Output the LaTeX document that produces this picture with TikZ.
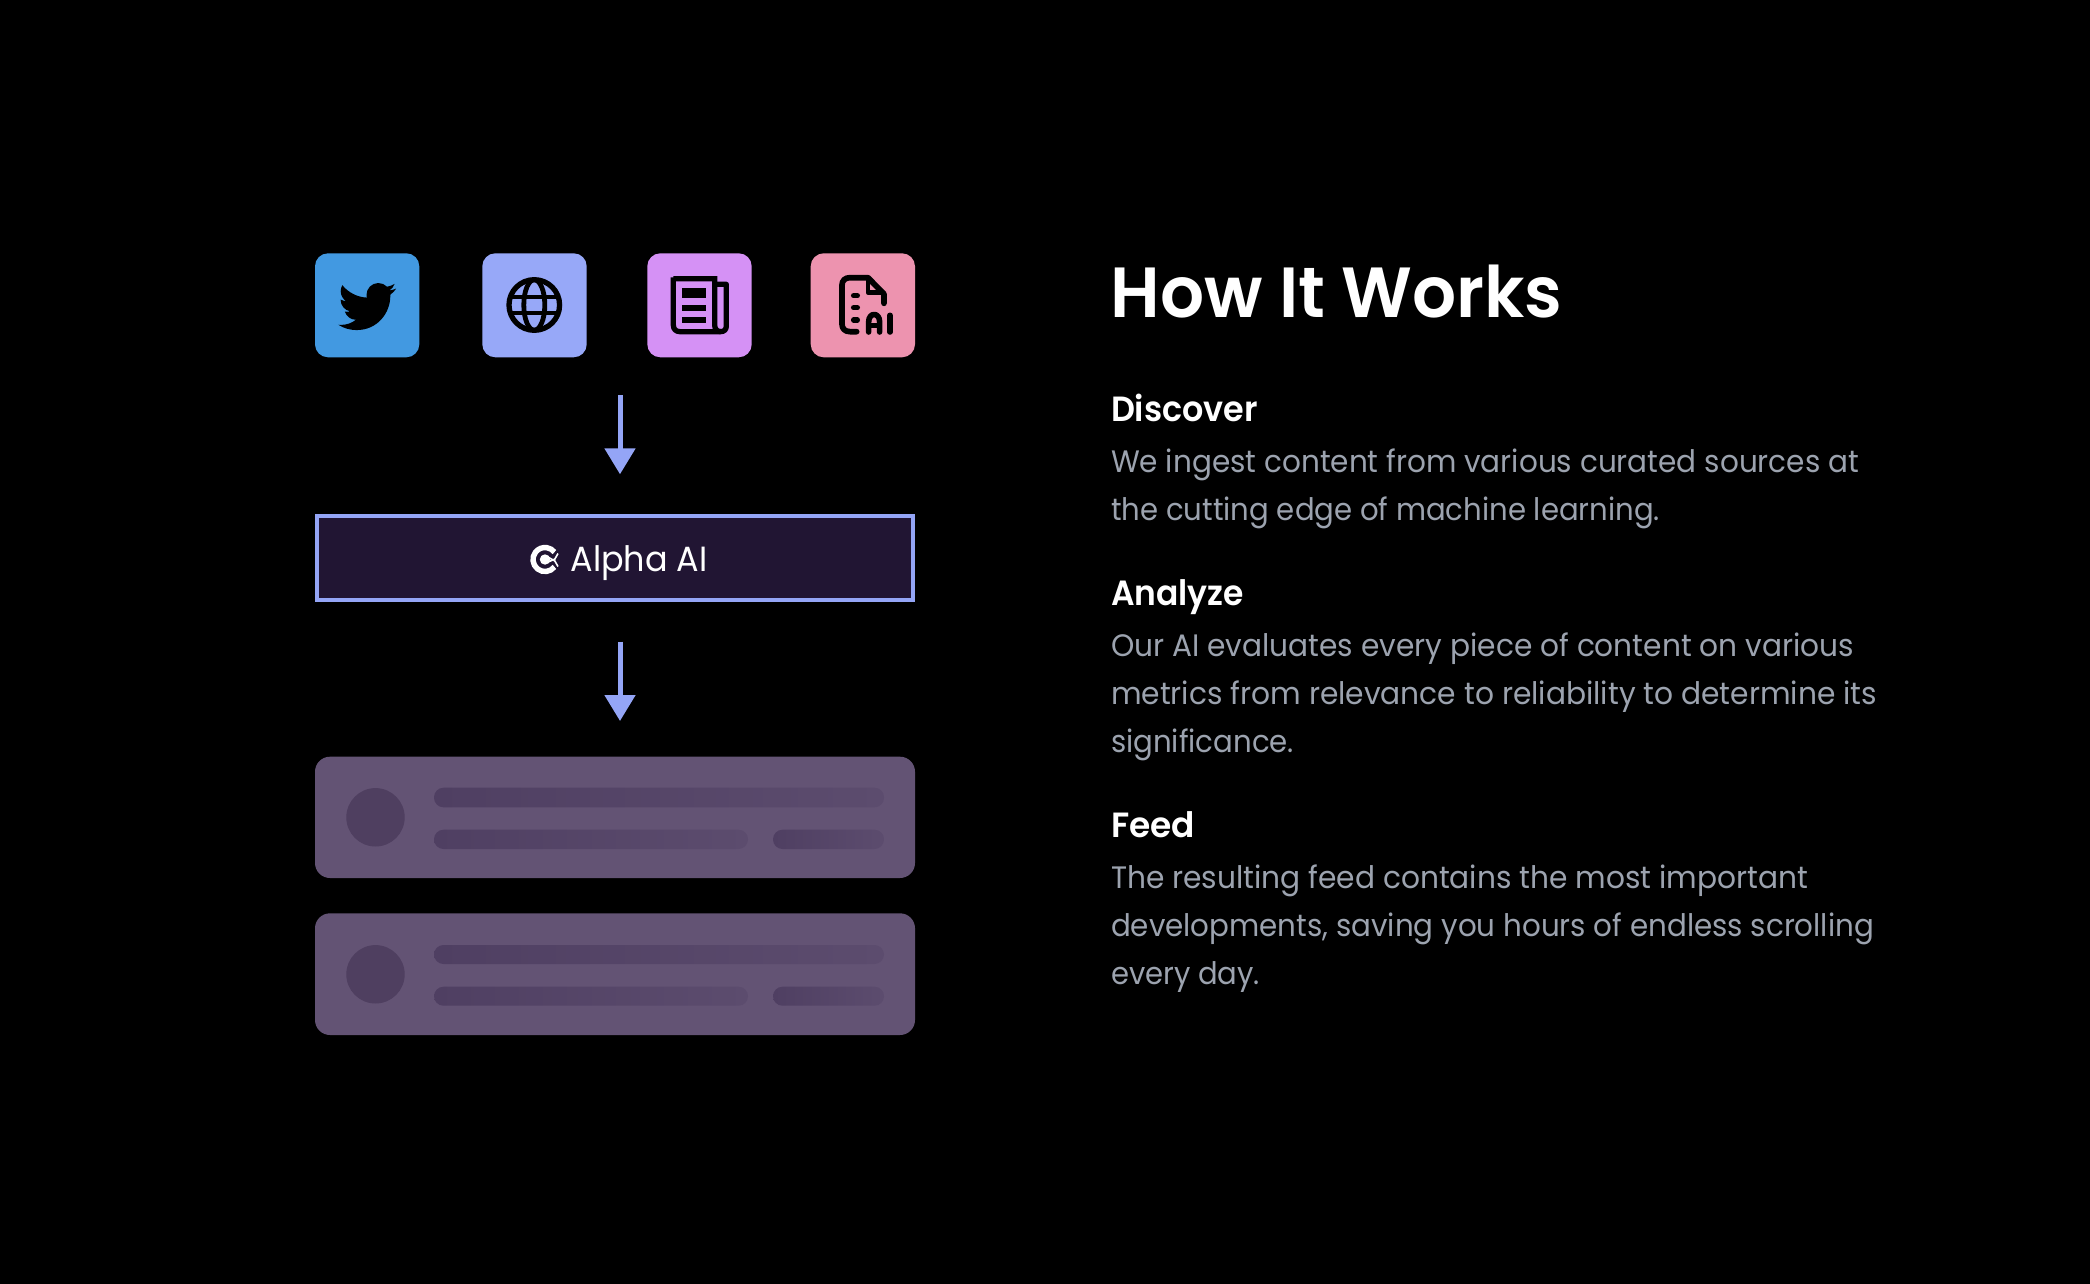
\documentclass[tikz,border=0pt]{standalone}
\usepackage{fontspec}
\usepackage{graphicx}
\usetikzlibrary{arrows.meta}
\setmainfont{Poppins}
\newfontfamily\titlefont{Poppins SemiBold}
\newfontfamily\headfont{Poppins SemiBold}
\newfontfamily\bodyfont{Poppins}
\newfontfamily\brandfont{Poppins}
\definecolor{pageblack}{HTML}{000000}
\definecolor{tileblue}{HTML}{4299E1}
\definecolor{tileperi}{HTML}{97A8F8}
\definecolor{tilelilac}{HTML}{D591F5}
\definecolor{tilepink}{HTML}{ED93AF}
\definecolor{arrowperi}{HTML}{94A5F6}
\definecolor{boxfill}{HTML}{211533}
\definecolor{cardfill}{HTML}{635374}
\definecolor{barleft}{HTML}{4F3F62}
\definecolor{barright}{HTML}{5C4C6E}
\definecolor{circlefill}{HTML}{4F3F60}
\definecolor{bodygrey}{HTML}{9CA3AF}
\newcommand{\fitw}[2]{\resizebox{#1pt}{\height}{#2}}
\tikzset{
  x=1pt, y=-1pt,
  tile/.style={rounded corners=13pt},
  flowarrow/.style={draw=arrowperi, line width=5pt, -{Triangle[length=26pt,width=30pt,fill=arrowperi]}},
  txt/.style={anchor=base west, inner sep=0pt, outer sep=0pt, text=white},
  titletxt/.style={txt, font=\titlefont\fontsize{71}{71}\selectfont},
  headtxt/.style={txt, font=\headfont\fontsize{35}{35}\selectfont},
  bodytxt/.style={txt, text=bodygrey, font=\bodyfont\fontsize{31}{31}\selectfont},
  card/.style={fill=cardfill, rounded corners=15pt},
  bar/.style={left color=barleft, right color=barright, rounded corners=9.5pt},
  icon/.style={fill=pageblack, draw=none},
  iconline/.style={draw=pageblack, line width=5.3pt},
  cropunits/.style={x=0.3333pt, y=-0.3333pt},
}
\begin{document}
\begin{tikzpicture}
\useasboundingbox (0,0) rectangle (2090,1284);
\fill[pageblack] (0,0) rectangle (2090,1284);

% tiles
\fill[tile, tileblue] (315,253.3) rectangle (419.3,357.3);
\fill[tile, tileperi] (482.3,253.3) rectangle (586.7,357.3);
\fill[tile, tilelilac] (647.3,253.3) rectangle (751.7,357.3);
\fill[tile, tilepink] (810.7,253.3) rectangle (915,357.3);

% twitter bird
\begin{scope}[shift={(335.9,276)}, x=2.55pt, y=-2.55pt]
\fill[icon] (23.643,4.937)
 .. controls (22.808,5.307) and (21.911,5.557) .. (20.968,5.670)
 .. controls (21.930,5.094) and (22.668,4.180) .. (23.016,3.092)
 .. controls (22.116,3.626) and (21.119,4.014) .. (20.058,4.222)
 .. controls (19.208,3.318) and (17.998,2.752) .. (16.658,2.752)
 .. controls (14.086,2.752) and (12.0,4.838) .. (12.0,7.412)
 .. controls (12,7.776) and (12.042,8.130) .. (12.12,8.472)
 .. controls (8.247,8.277) and (4.816,6.422) .. (2.518,3.604)
 .. controls (2.118,4.294) and (1.888,5.094) .. (1.888,5.946)
 .. controls (1.888,7.562) and (2.711,8.989) .. (3.96,9.824)
 .. controls (3.196,9.799) and (2.478,9.590) .. (1.85,9.241)
 -- (1.85,9.301)
 .. controls (1.85,11.558) and (3.455,13.441) .. (5.587,13.869)
 .. controls (5.195,13.975) and (4.784,14.031) .. (4.36,14.031)
 .. controls (4.06,14.031) and (3.767,14.003) .. (3.483,13.949)
 .. controls (4.076,15.799) and (5.796,17.147) .. (7.835,17.183)
 .. controls (6.24,18.433) and (4.231,19.178) .. (2.049,19.178)
 .. controls (1.673,19.178) and (1.302,19.156) .. (0.937,19.113)
 .. controls (2.999,20.436) and (5.447,21.206) .. (8.077,21.206)
 .. controls (16.647,21.206) and (21.332,14.108) .. (21.332,7.952)
 .. controls (21.332,7.752) and (21.327,7.55) .. (21.318,7.35)
 .. controls (22.228,6.692) and (23.018,5.873) .. (23.641,4.94) -- cycle;
\end{scope}

% globe
\begin{scope}[shift={(534.3,305)}]
\draw[iconline] (0,0) circle (25.3);
\draw[iconline, line width=4.8pt] (0,0) ellipse (10.5 and 25.3);
\draw[iconline, line width=4.8pt] (-24,-8) -- (24,-8);
\draw[iconline, line width=4.8pt] (-24,8) -- (24,8);
\end{scope}

% newspaper
\begin{scope}[shift={(630,240)}, cropunits]
\draw[iconline, line join=miter] (130,116) -- (254,116) -- (254,255)
   .. controls (254,268) and (262,275) .. (272,275);
\draw[iconline, line join=round] (130,112) -- (130,255)
   .. controls (130,268) and (138,275) .. (150,275) -- (272,275)
   .. controls (283,275) and (289,268) .. (289,258) -- (289,133) -- (254,133);
\fill[icon] (155,143) rectangle (228,175);
\fill[icon] (155,195) rectangle (228,213);
\fill[icon] (155,230) rectangle (228,248);
\end{scope}

% AI document
\begin{scope}[shift={(630,240)}, cropunits]
\draw[iconline, line width=5.7pt, line cap=round, line join=round]
  (680,275) -- (660,275) .. controls (645,275) and (636,266) .. (636,252)
  -- (636,136) .. controls (636,122) and (645,113) .. (660,113) -- (714,113)
  -- (762,162) -- (762,190);
\draw[iconline, line width=4.8pt, line join=round] (714,113) -- (714,157) -- (762,157);
\draw[iconline, line cap=round, line width=5.4pt] (671,167) -- (682,167);
\draw[iconline, line cap=round, line width=5.4pt] (671,203) -- (682,203);
\draw[iconline, line cap=round, line width=5.4pt] (671,240) -- (682,240);
\draw[iconline, line cap=round, line join=round, line width=5.6pt]
  (716,276) -- (716,246) .. controls (716,216) and (749,216) .. (749,246) -- (749,276);
\draw[iconline, line width=5pt] (716,258) -- (749,258);
\draw[iconline, line cap=round, line width=5.6pt] (780,226) -- (780,276);
\end{scope}

% arrows
\coordinate (a1s) at (620,395);
\coordinate (a1e) at (620,474.3);
\coordinate (a2s) at (620,641.7);
\coordinate (a2e) at (620,721);
\draw[flowarrow] (a1s) -- (a1e);
\draw[flowarrow] (a2s) -- (a2e);

% Alpha AI box
\draw[fill=boxfill, draw=arrowperi, line width=4pt] (317,516.3) rectangle (913,600);
\begin{scope}[shift={(545,559.5)}]
\draw[white, line width=5.4pt] (38:12) arc (38:322:12);
\fill[white] (0,0) circle (5.2);
\draw[white, line width=1.6pt] (2,-3) -- (9,1) -- (13,-6);
\draw[white, line width=1.6pt] (2,3) -- (9,0) -- (13,7);
\end{scope}
\node[txt, font=\brandfont\fontsize{35}{35}\selectfont] (brand) at (570.5,571.5) {\fitw{137}{Alpha AI}};

% cards
\fill[card] (315,756.7) rectangle (915,878);
\fill[circlefill] (375.5,817.3) circle (29.2);
\shade[bar] (434,787.7) rectangle (884,807.3);
\shade[bar] (434,829.7) rectangle (748,849);
\shade[bar] (773,829.7) rectangle (884,849);

\fill[card] (315,913.3) rectangle (915,1035);
\fill[circlefill] (375.5,974.3) circle (29.2);
\shade[bar] (434,945) rectangle (884,964);
\shade[bar] (434,986.7) rectangle (748,1005.7);
\shade[bar] (773,986.7) rectangle (884,1005.7);

% text
\node[titletxt] (title) at (1110.5,317.5) {\fitw{452}{How It Works}};

\node[headtxt] (h1) at (1111,421) {\fitw{147}{Discover}};
\node[bodytxt] (b1a) at (1111,472.5) {\fitw{748}{We ingest content from various curated sources at}};
\node[bodytxt] (b1b) at (1111,520.5) {\fitw{549}{the cutting edge of machine learning.}};

\node[headtxt] (h2) at (1111,605) {\fitw{133}{Analyze}};
\node[bodytxt] (b2a) at (1111,656.5) {\fitw{743}{Our AI evaluates every piece of content on various}};
\node[bodytxt] (b2b) at (1111,704.5) {\fitw{766}{metrics from relevance to reliability to determine its}};
\node[bodytxt] (b2c) at (1111,752.5) {\fitw{183}{significance.}};

\node[headtxt] (h3) at (1111,837) {\fitw{84}{Feed}};
\node[bodytxt] (b3a) at (1111,888.5) {\fitw{697}{The resulting feed contains the most important}};
\node[bodytxt] (b3b) at (1111,936.5) {\fitw{763}{developments, saving you hours of endless scrolling}};
\node[bodytxt] (b3c) at (1111,984.5) {\fitw{149}{every day.}};
\end{tikzpicture}
\end{document}
